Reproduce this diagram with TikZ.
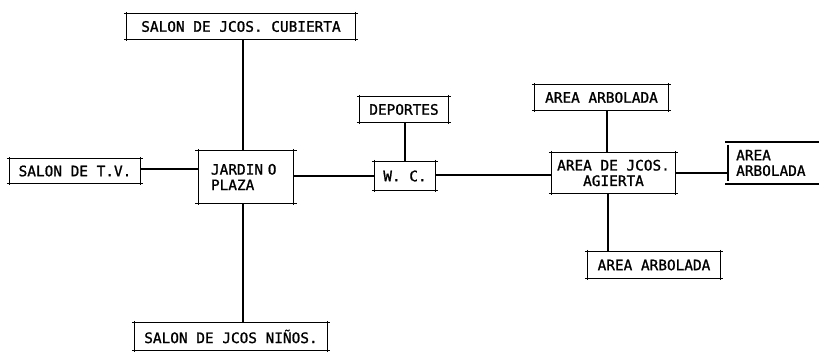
\documentclass[tikz,border=0pt]{standalone}
\usepackage{fontspec}
\newfontfamily\typefont[FakeBold=1.2]{DejaVu Sans Mono}
\tikzset{
  every picture/.style={x=1pt,y=-1pt},
  bx/.style={rectangle,inner sep=0pt,font=\typefont\fontsize{14.4}{15.5}\selectfont},
  ln/.style={line width=1.1pt,black}
}
\newcommand{\skbox}[1]{%
  \draw[ln] ([xshift=-3pt]#1.north west) -- ([xshift=3pt]#1.north east);
  \draw[ln] ([xshift=-3pt]#1.south west) -- ([xshift=3pt]#1.south east);
  \draw[ln] ([yshift=2pt]#1.north west) -- ([yshift=-2pt]#1.south west);
  \draw[ln] ([yshift=2pt]#1.north east) -- ([yshift=-2pt]#1.south east);}
\begin{document}
\begin{tikzpicture}
\useasboundingbox (0,0) rectangle (819,352);
% nodes
\node[bx,minimum width=228pt,minimum height=25pt] (cub) at (241,26.5) {SALON DE JCOS. CUBIERTA};
\node[bx,minimum width=130pt,minimum height=24pt] (tv) at (75,171) {SALON DE T.V.};
\node[bx,minimum width=95pt,minimum height=52pt,align=left,text width=70pt] (jar) at (246,177) {JARDIN O\\PLAZA};
\node[bx,minimum width=88pt,minimum height=25pt] (dep) at (404,109.5) {DEPORTES};
\node[bx,minimum width=60pt,minimum height=28pt] (wc) at (405,176) {W. C.};
\node[bx,minimum width=123pt,minimum height=40pt,align=center] (abi) at (613.5,173) {AREA DE JCOS.\\AGIERTA};
\node[bx,minimum width=133pt,minimum height=25pt] (arbA) at (601.5,97.5) {AREA ARBOLADA};
\node[bx,minimum width=132pt,minimum height=26pt] (arbC) at (654,265) {AREA ARBOLADA};
\node[bx,minimum width=192pt,minimum height=27pt] (nin) at (231,336.5) {SALON DE JCOS NIÑOS.};
\node[bx,anchor=west,align=left] (arbB) at (736,163) {AREA\\ARBOLADA};
\coordinate (arbBtl) at (728,142);
\coordinate (arbBbl) at (728,184);
\coordinate (arbBtr) at (819,142);
\coordinate (arbBbr) at (819,184);
% frames
\foreach \n in {cub,tv,jar,dep,wc,abi,arbA,arbC,nin} {\skbox{\n}}
\draw[ln] ([yshift=-3pt]arbBtl) -- ([yshift=3pt]arbBbl);
\draw[ln] ([xshift=-3pt]arbBtl) -- (arbBtr);
\draw[ln] ([xshift=-3pt]arbBbl) -- (arbBbr);
% connectors
\draw[ln] (jar.north -| 243,0) -- (cub.south -| 243,0);
\draw[ln] (jar.south -| 243,0) -- (nin.north -| 243,0);
\draw[ln] ([yshift=2pt]tv.east) -- ([yshift=2pt]tv.east -| jar.west);
\draw[ln] (wc.west -| jar.east) -- (wc.west);
\draw[ln] (wc.north) -- (wc.north |- dep.south);
\draw[ln] ([yshift=1pt]wc.east) -- ([yshift=1pt]wc.east -| abi.west);
\draw[ln] ([xshift=-6.5pt]abi.north) -- ([xshift=-6.5pt]abi.north |- arbA.south);
\draw[ln] ([xshift=-5.5pt]abi.south) -- ([xshift=-5.5pt]abi.south |- arbC.north);
\draw[ln] (abi.east) -- (abi.east -| arbBtl);
\end{tikzpicture}
\end{document}
